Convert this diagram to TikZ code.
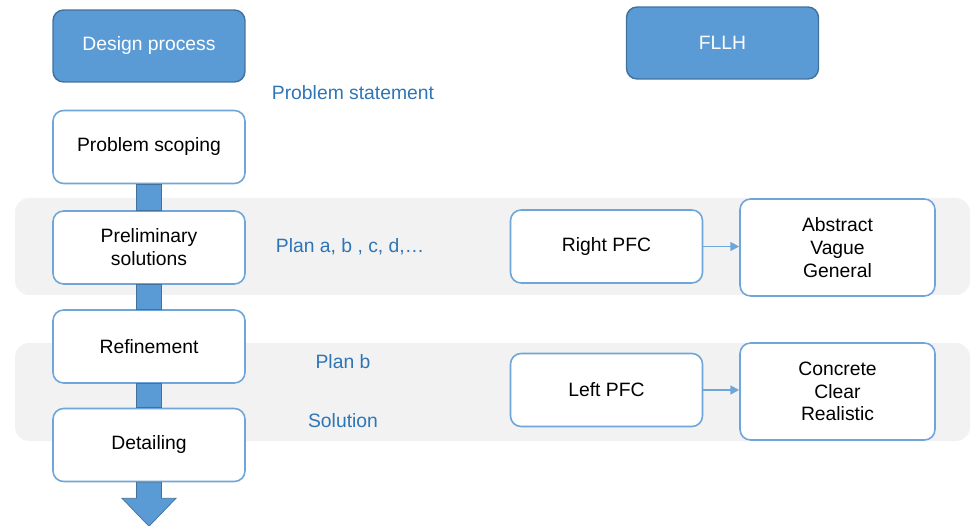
\documentclass[tikz,border=0pt]{standalone}
\usepackage{fontspec}
\setmainfont{Liberation Sans}
\usetikzlibrary{calc,arrows.meta}

\definecolor{boxblue}{HTML}{5B9BD5}
\definecolor{boxedge}{HTML}{41719C}
\definecolor{lineblue}{HTML}{6FA6DA}
\definecolor{labelblue}{HTML}{2E75B6}
\definecolor{bandgray}{HTML}{F2F2F2}

\begin{document}
\begin{tikzpicture}[
  x=0.02cm,
  y=-0.02cm,
  font=\fontsize{11}{13}\selectfont,
  head/.style={
    rectangle,
    draw=boxedge,
    line width=0.8pt,
    fill=boxblue,
    rounded corners=6pt,
    minimum width=3.84cm,
    minimum height=1.44cm,
    text=white,
    align=center
  },
  stage/.style={
    rectangle,
    draw=lineblue,
    line width=0.9pt,
    fill=white,
    rounded corners=6pt,
    minimum width=3.84cm,
    minimum height=1.46cm,
    align=center
  },
  trait/.style={
    stage,
    minimum width=3.9cm,
    minimum height=1.94cm
  },
  lbl/.style={
    text=labelblue,
    inner sep=1pt
  },
  band/.style={
    fill=bandgray,
    rounded corners=8pt
  },
  bar/.style={
    fill=boxblue,
    draw=boxedge,
    line width=0.4pt
  },
  arr/.style={
    -{Triangle[length=5pt,width=5pt]},
    draw=lineblue,
    line width=1pt
  }
]

\useasboundingbox (0,0) rectangle (972,526);

% =========================================================
% BANDES
% =========================================================

\fill[band] (15,198) rectangle (970,295);
\fill[band] (15,343) rectangle (970,441);

% =========================================================
% ENTETES
% =========================================================

\node[head] (design) at (149,46) {Design process};

\node[head] (fllh) at (722.5,43) {FLLH};

% =========================================================
% ETAPES
% =========================================================

\node[stage] (scoping) at (149,147) {Problem scoping};

\node[stage] (prelim) at (149,247.5) {Preliminary\\solutions};

\node[stage] (refine) at (149,346.5) {Refinement};

\node[stage] (detail) at (149,445) {Detailing};

% --- liaisons entre etapes ---

\fill[bar]
  ($(scoping.south)+(-12.5,0)$) rectangle ($(prelim.north)+(12.5,0)$);

\fill[bar]
  ($(prelim.south)+(-12.5,0)$) rectangle ($(refine.north)+(12.5,0)$);

\fill[bar]
  ($(refine.south)+(-12.5,0)$) rectangle ($(detail.north)+(12.5,0)$);

\filldraw[bar]
  ($(detail.south)+(-12.5,0)$)
  -- ($(detail.south)+(-12.5,16)$)
  -- ($(detail.south)+(-27,16)$)
  -- ($(detail.south)+(0,44)$)
  -- ($(detail.south)+(27,16)$)
  -- ($(detail.south)+(12.5,16)$)
  -- ($(detail.south)+(12.5,0)$)
  -- cycle;

% =========================================================
% ANNOTATIONS
% =========================================================

\node[lbl] (pstate) at (353,93) {Problem statement};

\node[lbl] (plans) at (350,247) {Plan a, b , c, d,\ldots};

\node[lbl] (planb) at (343,362) {Plan b};

\node[lbl] (sol) at (343,421) {Solution};

% =========================================================
% FLLH
% =========================================================

\node[stage] (rpfc) at (606.5,246.5) {Right PFC};

\node[trait] (abstract) at (837.5,247.5) {Abstract\\Vague\\General};

\node[stage] (lpfc) at (606.5,390) {Left PFC};

\node[trait] (concrete) at (837.5,391.5) {Concrete\\Clear\\Realistic};

\draw[arr] (rpfc.east) -- (rpfc.east -| abstract.west);

\draw[arr] (lpfc.east) -- (lpfc.east -| concrete.west);

\end{tikzpicture}
\end{document}
